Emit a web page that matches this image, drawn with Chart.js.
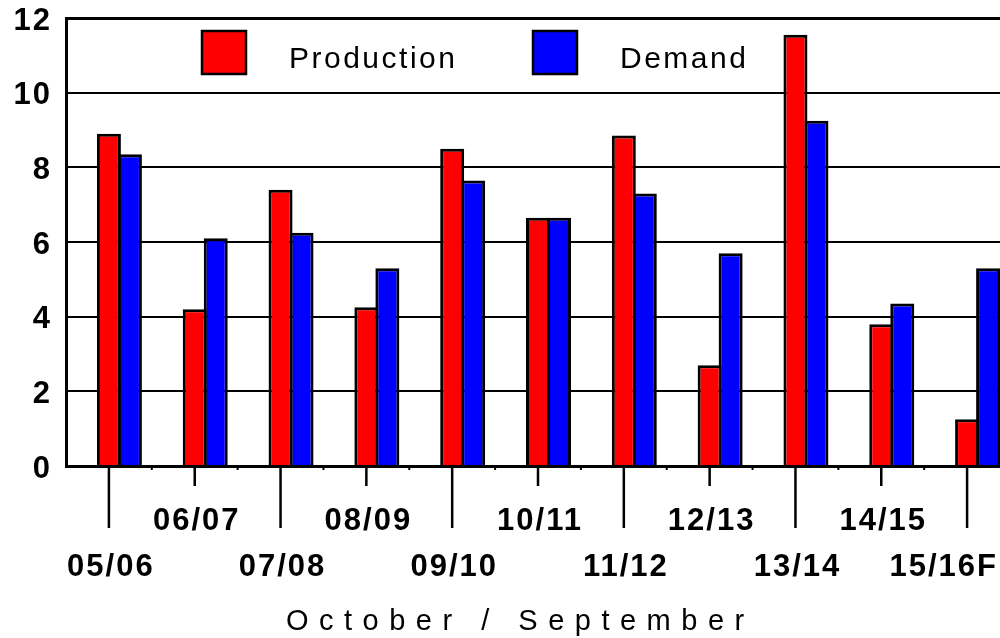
<!DOCTYPE html>
<html>
<head>
<meta charset="utf-8">
<title>Production and Demand</title>
<script src="https://cdn.jsdelivr.net/npm/chart.js@4.4.1/dist/chart.umd.min.js"></script>
<style>
  html, body { margin: 0; padding: 0; background: #fff; overflow: hidden; }
  #wrap { width: 1000px; height: 638px; overflow: hidden; }
  canvas { display: block; }
</style>
</head>
<body>
<div id="wrap"><canvas id="chart" width="1012" height="638"></canvas></div>
<script>
/* --- Data --- */
const categories = ['05/06', '06/07', '07/08', '08/09', '09/10', '10/11', '11/12', '12/13', '13/14', '14/15', '15/16F'];
const production = [8.9, 4.2, 7.4, 4.25, 8.5, 6.65, 8.85, 2.7, 11.55, 3.8, 1.25];
const demand = [8.35, 6.1, 6.25, 5.3, 7.65, 6.65, 7.3, 5.7, 9.25, 4.35, 5.3];
const seriesNames = ['Production', 'Demand'];
const axisTitle = 'October / September';
const yMin = 0;
const yMax = 12;
const yStep = 2;

/* --- Look --- */
const FONT = "'Liberation Sans', Arial, Helvetica, sans-serif";
const COLORS = {
  production: '#FF0000',
  demand: '#0000FF',
  ink: '#000000'
};

/* --- Plugin: letter spacing for the scale labels --- */
const spacing = {
  id: 'spacing',
  beforeDraw(chart) {
    chart.ctx.letterSpacing = '2px';
  }
};

/* --- Plugin: staggered category labels, long/short ticks --- */
const staggerAxis = {
  id: 'staggerAxis',
  afterDraw(chart) {
    const { ctx, chartArea } = chart;
    const x = chart.scales.x;
    const base = chartArea.bottom;
    const n = categories.length;

    ctx.save();
    ctx.strokeStyle = COLORS.ink;

    // small marks at category boundaries
    ctx.lineWidth = 2;
    for (let i = 1; i < n; i++) {
      const bx = x.getPixelForValue(i - 0.5);
      ctx.beginPath();
      ctx.moveTo(bx, base);
      ctx.lineTo(bx, base + 4);
      ctx.stroke();
    }

    // ticks: long for the lower row, short for the upper row
    ctx.lineWidth = 2.5;
    for (let i = 0; i < n; i++) {
      const px = x.getPixelForTick(i);
      const len = i % 2 === 0 ? 62 : 20;
      ctx.beginPath();
      ctx.moveTo(px, base);
      ctx.lineTo(px, base + len);
      ctx.stroke();
    }

    // labels
    ctx.fillStyle = COLORS.ink;
    ctx.font = 'bold 31px ' + FONT;
    ctx.letterSpacing = '2px';
    ctx.textAlign = 'center';
    ctx.textBaseline = 'alphabetic';
    for (let i = 0; i < n; i++) {
      const label = x.getLabelForValue(i);
      const w = ctx.measureText(label).width;
      let cx = x.getPixelForTick(i) + 2;
      if (cx + w / 2 > 998) cx = 998 - w / 2;
      const y = i % 2 === 0 ? base + 110 : base + 64;
      ctx.fillText(label, cx, y);
    }
    ctx.restore();
  }
};

/* --- Plugin: legend inside the plot + bottom title --- */
const legendAndTitle = {
  id: 'legendAndTitle',
  afterDraw(chart) {
    const { ctx, chartArea } = chart;
    const sets = chart.data.datasets.filter(ds => seriesNames.includes(ds.label));
    const boxX = [chartArea.left + 136, chartArea.left + 467];
    const textX = [chartArea.left + 223, chartArea.left + 554];
    const boxTop = chartArea.top + 13;

    ctx.save();
    ctx.font = '30px ' + FONT;
    ctx.letterSpacing = '2.5px';
    ctx.textBaseline = 'alphabetic';
    ctx.textAlign = 'left';
    sets.forEach((ds, i) => {
      ctx.fillStyle = ds.backgroundColor;
      ctx.fillRect(boxX[i], boxTop, 44, 43);
      ctx.lineWidth = 2.5;
      ctx.strokeStyle = COLORS.ink;
      ctx.strokeRect(boxX[i], boxTop, 44, 43);
      ctx.fillStyle = COLORS.ink;
      ctx.fillText(ds.label, textX[i], chartArea.top + 50);
    });

    ctx.font = '29px ' + FONT;
    ctx.letterSpacing = '10.5px';
    ctx.fillText(axisTitle, 286, 630);
    ctx.restore();
  }
};

/* --- Chart --- */
const canvas = document.getElementById('chart');
new Chart(canvas, {
  type: 'bar',
  data: {
    labels: categories,
    datasets: [
      { label: 'spacer', data: categories.map(() => null) },
      {
        label: seriesNames[0],
        data: production,
        backgroundColor: COLORS.production,
        borderColor: COLORS.ink,
        borderWidth: 3
      },
      {
        label: seriesNames[1],
        data: demand,
        backgroundColor: COLORS.demand,
        borderColor: COLORS.ink,
        borderWidth: 3
      }
    ]
  },
  options: {
    responsive: false,
    animation: false,
    devicePixelRatio: 1,
    layout: { padding: { top: 18, right: 2, bottom: 0, left: 0 } },
    datasets: {
      bar: { barPercentage: 1.143, categoryPercentage: 0.734 }
    },
    plugins: {
      legend: { display: false },
      tooltip: { enabled: false },
      title: { display: false }
    },
    scales: {
      x: {
        grid: { display: false, drawTicks: false },
        border: { display: true, color: COLORS.ink, width: 3 },
        ticks: { display: false },
        afterFit(scale) {
          scale.height = 172;
          scale.paddingLeft = 0;
          scale.paddingRight = 0;
        }
      },
      y: {
        min: yMin,
        max: yMax,
        ticks: {
          stepSize: yStep,
          color: COLORS.ink,
          font: { family: FONT, size: 31, weight: 'bold', lineHeight: 1 },
          padding: 14,
          labelOffset: 3
        },
        grid: {
          color: COLORS.ink,
          lineWidth: ctx => (ctx.tick && ctx.tick.value === yMax ? 3 : 2),
          drawTicks: false
        },
        border: { display: true, color: COLORS.ink, width: 3 },
        afterFit(scale) {
          scale.width = 66;
          scale.paddingTop = 0;
          scale.paddingBottom = 0;
        }
      }
    }
  },
  plugins: [spacing, staggerAxis, legendAndTitle]
});
</script>
</body>
</html>
